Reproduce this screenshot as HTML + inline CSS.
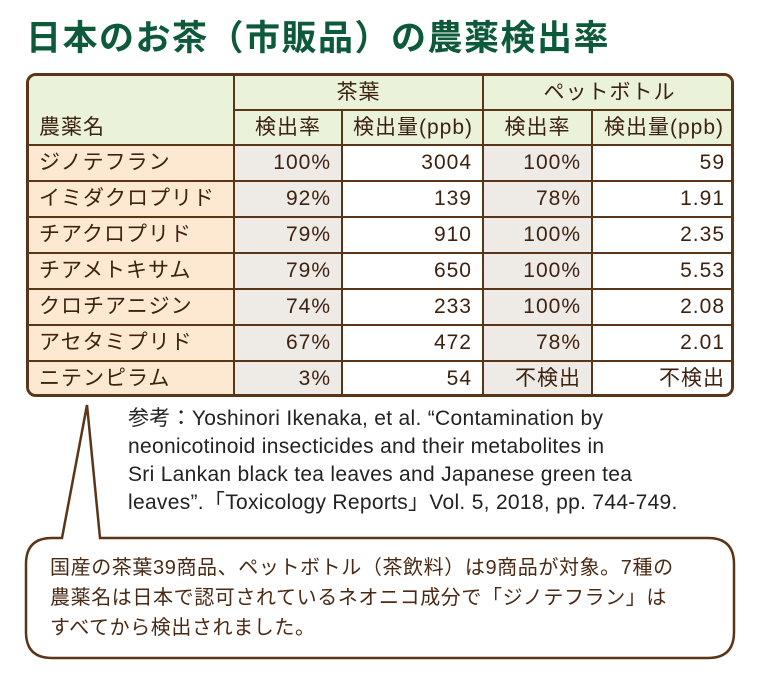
<!DOCTYPE html>
<html><head><meta charset="utf-8"><style>
body{margin:0;width:760px;height:676px;background:#fff;position:relative;overflow:hidden;font-family:"Liberation Sans","Noto Sans CJK JP",sans-serif;color:#4a2a14}
.a{position:absolute;box-sizing:border-box}
.t{position:absolute;left:26px;top:10px;font-size:35px;font-weight:bold;color:#0d5a3a;white-space:nowrap;letter-spacing:1.5px;font-family:"Noto Sans CJK JP",sans-serif}
#tbl{left:26px;top:73px;width:708px;height:324px;border:3px solid #5a3518;border-radius:10px;overflow:hidden;background:#fff}
.c{position:absolute;box-sizing:border-box;font-size:21px;line-height:36px;padding:0 10px;white-space:nowrap;border-right:2px solid #5a3518;border-bottom:2px solid #5a3518;font-family:"Liberation Sans","Noto Sans CJK JP",sans-serif;color:#3d2210;letter-spacing:1px}
.ref{left:128px;top:405px;font-size:21px;line-height:28px;color:#222;white-space:nowrap;font-family:"Liberation Sans","Noto Sans CJK JP",sans-serif;letter-spacing:0.3px}
.bub{left:50px;top:553px;font-size:20px;line-height:30px;color:#4a2a14;white-space:nowrap;letter-spacing:0.6px}
</style></head><body>
<div class="t">日本のお茶（市販品）の農薬検出率</div>
<div class="a" id="tbl"></div>
<div class="a ref">参考：Yoshinori Ikenaka, et al. “Contamination by<br>neonicotinoid insecticides and their metabolites in<br>Sri Lankan black tea leaves and Japanese green tea<br>leaves”.「Toxicology Reports」Vol. 5, 2018, pp. 744-749.</div>
<svg class="a" style="left:0;top:0" width="760" height="676">
<path d="M52,538 L62,538 L87,405 L100,538 L708,538 Q734,538 734,564 L734,632 Q734,658 708,658 L52,658 Q26,658 26,632 L26,564 Q26,538 52,538 Z" fill="#fff" stroke="#5a3518" stroke-width="2.5"/>
</svg>
<div class="a bub">国産の茶葉39商品、ペットボトル（茶飲料）は9商品が対象。7種の<br>農薬名は日本で認可されているネオニコ成分で「ジノテフラン」は<br>すべてから検出されました。</div>
<script>
const pesticides=["ジノテフラン","イミダクロプリド","チアクロプリド","チアメトキサム","クロチアニジン","アセタミプリド","ニテンピラム"];
const leafRate=["100%","92%","79%","79%","74%","67%","3%"];
const leafAmount=["3004","139","910","650","233","472","54"];
const bottleRate=["100%","78%","100%","100%","100%","78%","不検出"];
const bottleAmount=["59","1.91","2.35","5.53","2.08","2.01","不検出"];
const tbl=document.getElementById('tbl');
const cols=[0,206,314,455,564,705];
function cell(x,y,w,h,txt,bg,align,name){
  const d=document.createElement('div');
  d.className='c';
  d.style.left=x+'px';d.style.top=y+'px';d.style.width=w+'px';d.style.height=h+'px';
  d.style.background=bg;d.style.textAlign=align;d.style.lineHeight=(h-2)+'px';
  d.textContent=txt;
  
  
  tbl.appendChild(d);
}
const hg='#eaf3da';
cell(0,0,206,70,'',hg,'left','header-name-col');
const nm=document.createElement('div');nm.className='c';nm.style.cssText='left:0;top:34px;border:none;background:transparent';nm.textContent='農薬名';


tbl.appendChild(nm);
cell(206,0,249,35,'茶葉',hg,'center','header-tea-leaves');
cell(455,0,253,35,'ペットボトル',hg,'center','header-pet-bottle');
const subs=['検出率','検出量(ppb)','検出率','検出量(ppb)'];
for(let i=0;i<4;i++)cell(cols[i+1],35,cols[i+2]-cols[i+1]+(i==3?3:0),35,subs[i],hg,'center','subheader-'+i);
for(let r=0;r<pesticides.length;r++){
  const y=70+r*36,h=36;
  cell(0,y,206,h,pesticides[r],'#fde8d2','left','pesticide-name');
  cell(206,y,108,h,leafRate[r],'#eeeae5','right','leaf-rate');
  cell(314,y,141,h,leafAmount[r],'#fff','right','leaf-amount');
  cell(455,y,109,h,bottleRate[r],'#eeeae5','right','bottle-rate');
  cell(564,y,144,h,bottleAmount[r],'#fff','right','bottle-amount');
}
</script>
</body></html>
